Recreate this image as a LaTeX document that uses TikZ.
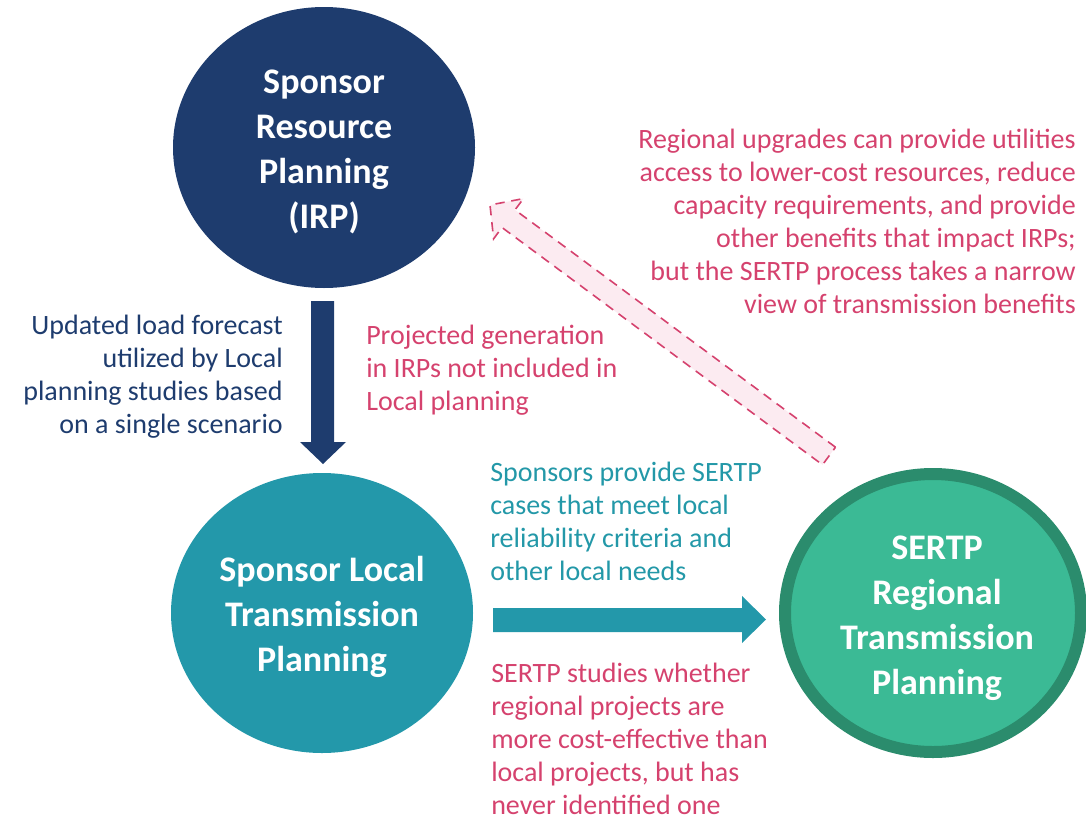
\documentclass[tikz,border=0pt]{standalone}
\usepackage{fontspec}
\setmainfont{Carlito}
\usetikzlibrary{shapes.geometric}
\definecolor{navy}{HTML}{1E3C6E}
\definecolor{tealc}{HTML}{2398AA}
\definecolor{greenf}{HTML}{3BBA95}
\definecolor{greenb}{HTML}{2B8C6D}
\definecolor{pinkc}{HTML}{D5426E}
\definecolor{pinkf}{HTML}{FCEBF1}
\definecolor{tealt}{HTML}{2398A8}
\tikzset{
  bubble/.style={ellipse, inner sep=0pt},
  bubbletext/.style={inner sep=0pt, align=center, text=white,
    font=\fontsize{27}{33.75}\selectfont\bfseries},
  note/.style={inner sep=0pt, font=\fontsize{21}{24.75}\selectfont},
}
\begin{document}
\begin{tikzpicture}[x=0.75pt,y=-0.75pt]
\useasboundingbox (0,0) rectangle (1086,818);
% circles
\node[bubble, fill=navy, minimum width=302*0.75pt, minimum height=281*0.75pt] (irp) at (324,147.5) {};
\node[bubble, fill=tealc, minimum width=302*0.75pt, minimum height=280*0.75pt] (local) at (322,613) {};
\node[bubble, fill=greenf, draw=greenb, line width=12*0.75pt, minimum width=296*0.75pt, minimum height=278*0.75pt] (sertp) at (933,613) {};
\node[bubbletext] (irpt) at ([yshift=-4.5*0.75pt]irp.center) {Sponsor\\Resource\\Planning\\(IRP)};
\node[bubbletext] (localt) at ([yshift=-4*0.75pt]local.center) {Sponsor Local\\Transmission\\Planning};
\node[bubbletext] (sertpt) at ([xshift=4*0.75pt,yshift=-5*0.75pt]sertp.center) {SERTP\\Regional\\Transmission\\Planning};
% down arrow
\fill[navy] (311,301) -- (334,301) -- (334,442) -- (346,442) -- (323,464) -- (300,442) -- (311,442) -- cycle;
% right arrow
\fill[tealc] (493,608) -- (742,608) -- (742,596) -- (766,619.5) -- (742,643) -- (742,632) -- (493,632) -- cycle;
% dashed arrow
\draw[pinkc, fill=pinkf, dashed, dash pattern=on 7pt off 5pt, line width=1.2pt]
  (835.5,447.2) -- (515.0,209.9) -- (523.4,198.6) -- (490,205) -- (493.6,238.8) -- (502.0,227.5) -- (822.5,464.8) -- cycle;
% texts
\node[note, text=pinkc, align=right, anchor=east] (t1) at (1076,221.5)
  {Regional upgrades can provide utilities\\access to lower-cost resources, reduce\\capacity requirements, and provide\\other benefits that impact IRPs;\\but the SERTP process takes a narrow\\view of transmission benefits};
\node[note, text=navy, align=right, anchor=east] (t2) at (283,376.5)
  {Updated load forecast\\utilized by Local\\planning studies based\\on a single scenario};
\node[note, text=pinkc, align=left, anchor=west] (t3) at (366,370)
  {Projected generation\\in IRPs not included in\\Local planning};
\node[note, text=tealt, align=left, anchor=west] (t4) at (490,521)
  {Sponsors provide SERTP\\cases that meet local\\reliability criteria and\\other local needs};
\node[note, text=pinkc, align=left, anchor=west] (t5) at (491,739)
  {SERTP studies whether\\regional projects are\\more cost-effective than\\local projects, but has\\never identified one};
\end{tikzpicture}
\end{document}
